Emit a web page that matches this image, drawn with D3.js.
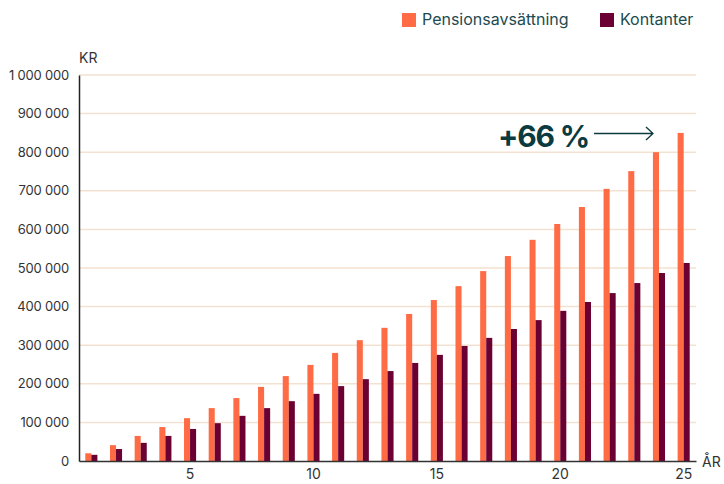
<!DOCTYPE html>
<html>
<head>
<meta charset="utf-8">
<script src="https://d3js.org/d3.v7.min.js"></script>
<style>
  body { margin: 0; background: #fff; }
  text { font-family: Inter, "Noto Sans", sans-serif; }
</style>
</head>
<body>
<div id="chart"></div>
<script>

// data
var years = d3.range(1, 26);
var series = ["Pensionsavsättning", "Kontanter"];
var pension = [20000, 41000, 65000, 88000, 111000, 137000, 163000, 192000, 220000, 249000,
               280000, 313000, 345000, 381000, 417000, 453000, 492000, 531000, 573000, 614000,
               658000, 705000, 751000, 800000, 850000];
var kontanter = [16000, 31000, 47000, 65000, 83000, 98000, 117000, 137000, 155000, 174000,
                 194000, 212000, 233000, 254000, 275000, 298000, 319000, 342000, 365000, 389000,
                 412000, 435000, 461000, 487000, 513000];
var yTicks = [0, 100000, 200000, 300000, 400000, 500000, 600000, 700000, 800000, 900000, 1000000];
var xTicks = [5, 10, 15, 20, 25];
var colors = ["#ff6b45", "#6b0033"];

var width = 724, height = 484;
var margin = {top: 75, right: 28, bottom: 23, left: 79};

var svg = d3.select("#chart").append("svg")
    .attr("width", width)
    .attr("height", height);

var x = d3.scaleBand()
    .domain(years)
    .range([margin.left, width - margin.right])
    .paddingInner(0.51)
    .paddingOuter(0.255);

var xSub = d3.scaleBand()
    .domain(series)
    .range([0, x.bandwidth()]);

var y = d3.scaleLinear()
    .domain([0, 1000000])
    .range([height - margin.bottom, margin.top]);

var fmt = function(d) { return d3.format(",")(d).replace(/,/g, " "); };

// gridlines
svg.append("g")
  .selectAll("line")
  .data(yTicks.slice(1))
  .enter().append("line")
    .attr("x1", margin.left)
    .attr("x2", width - margin.right)
    .attr("y1", function(d) { return y(d); })
    .attr("y2", function(d) { return y(d); })
    .attr("stroke", "#f3e2d1")
    .attr("stroke-width", 1.5);

// y axis
var yAxis = svg.append("g")
    .attr("transform", "translate(" + margin.left + ",0)")
    .call(d3.axisLeft(y).tickValues(yTicks).tickSize(0).tickPadding(10).tickFormat(fmt));
yAxis.select(".domain").attr("stroke", "#222").attr("stroke-width", 1.5);
yAxis.selectAll("text")
    .attr("fill", "#333")
    .style("font-size", "13px")
    .style("letter-spacing", "-0.2px");

// bars
var rows = years.map(function(d, i) { return {year: d, values: [pension[i], kontanter[i]]}; });
var groups = svg.append("g")
  .selectAll("g")
  .data(rows)
  .enter().append("g")
    .attr("transform", function(d) { return "translate(" + x(d.year) + ",0)"; });

groups.selectAll("rect")
  .data(function(d) { return d.values.map(function(v, j) { return {key: series[j], value: v, i: j}; }); })
  .enter().append("rect")
    .attr("x", function(d) { return xSub(d.key); })
    .attr("width", xSub.bandwidth())
    .attr("y", function(d) { return y(d.value); })
    .attr("height", function(d) { return y(0) - y(d.value); })
    .attr("fill", function(d) { return colors[d.i]; });

// x axis
var xAxis = svg.append("g")
    .attr("transform", "translate(0," + y(0) + ")")
    .call(d3.axisBottom(x).tickValues(xTicks).tickSize(0).tickPadding(8));
xAxis.select(".domain").attr("stroke", "#333").attr("stroke-width", 1.5);
xAxis.selectAll("text")
    .attr("fill", "#333")
    .style("font-size", "14px");

// axis titles
svg.append("text")
    .attr("x", margin.left)
    .attr("y", 63)
    .attr("fill", "#333")
    .style("font-size", "14px")
    .text("KR");

svg.append("text")
    .attr("x", width - margin.right + 6)
    .attr("y", y(0) + 6)
    .attr("fill", "#333")
    .style("font-size", "14px")
    .text("ÅR");

// legend
var legend = svg.append("g")
    .selectAll("g")
    .data(series)
    .enter().append("g")
      .attr("transform", function(d, i) { return "translate(" + [402, 600][i] + ",13)"; });
legend.append("rect")
    .attr("width", 14)
    .attr("height", 14)
    .attr("fill", function(d, i) { return colors[i]; });
legend.append("text")
    .attr("x", 20)
    .attr("y", 12)
    .attr("fill", "#1e4a50")
    .style("font-size", "16px")
    .text(function(d) { return d; });

// annotation
svg.append("text")
    .attr("x", 498)
    .attr("y", 147)
    .attr("fill", "#0b3a3f")
    .style("font-size", "30px")
    .style("font-weight", "700")
    .style("letter-spacing", "-1.2px")
    .text("+66 %");

svg.append("path")
    .attr("d", "M594,133.5H653M646,127L653,133.5L646,140")
    .attr("fill", "none")
    .attr("stroke", "#0b3a3f")
    .attr("stroke-width", 1.3);

</script>
</body>
</html>
